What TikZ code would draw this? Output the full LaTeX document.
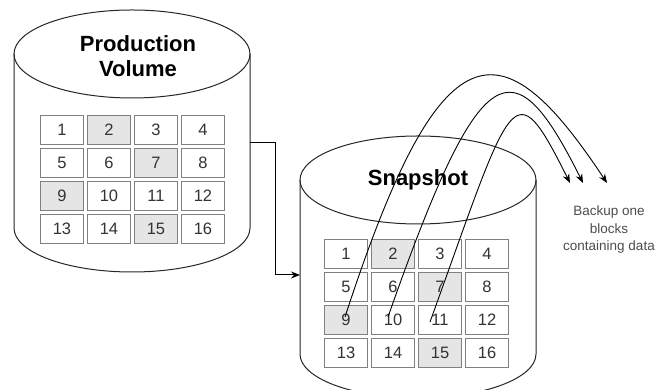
\documentclass[tikz,border=0pt]{standalone}
\usepackage{fontspec}
\setmainfont{Liberation Sans}
\usetikzlibrary{arrows.meta}

\begin{document}
\begin{tikzpicture}[x=1pt, y=1pt,
    vol/.style={line width=1pt, draw=black!85},
    title/.style={align=center, font=\bfseries\fontsize{22}{25}\selectfont},
    cell/.style={draw=black!50, line width=1.3pt, fill=white, minimum width=43pt, minimum height=29pt, inner sep=0pt, font=\fontsize{16.5}{19}\selectfont, text=black!80},
    used/.style={cell, fill=black!10},
    note/.style={align=center, font=\fontsize{13.5}{17.5}\selectfont, text=black!70},
    flow/.style={line width=0.9pt, -{Stealth[length=9pt, width=7pt]}}]
    \useasboundingbox (0,0) rectangle (656,390);
    % production volume
    \draw[vol] (14,336) -- (14,162) arc[start angle=180, end angle=360, x radius=118, y radius=44] -- (250,336);
    \draw[vol] (132,336) ellipse[x radius=118, y radius=44];
    \node[title] (prodtitle) at (138,334) {Production\\Volume};
    % snapshot
    \draw[vol] (300,210) -- (300,36) arc[start angle=180, end angle=360, x radius=118, y radius=44] -- (536,210);
    \draw[vol] (418,210) ellipse[x radius=118, y radius=44];
    \node[title] (snaptitle) at (418,210) {Snapshot};
    % blocks, same layout in both volumes
    \foreach \n/\s in {1/cell,2/used,3/cell,4/cell,5/cell,6/cell,7/used,8/cell,
                       9/used,10/cell,11/cell,12/cell,13/cell,14/cell,15/used,16/cell} {
        \pgfmathtruncatemacro\col{mod(\n-1,4)}
        \pgfmathtruncatemacro\row{div(\n-1,4)}
        \node[\s] (p\n) at ({62+47*\col},{260-33*\row}) {\n};
        \node[\s] (s\n) at ({346+47*\col},{136-33*\row}) {\n};
    }
    % volume -> snapshot
    \coordinate (prodout) at (250,247);
    \coordinate (snapin) at (300,115);
    \draw[line width=1pt, -{Stealth[length=9pt, width=7pt]}] (prodout) -- ++(25,0) |- (snapin);
    % backup arcs
    \coordinate (tip9) at (607,207);
    \coordinate (tip10) at (583,207);
    \coordinate (tip11) at (570,207);
    \draw[flow] ([shift={(-1,3)}]s9.center) .. controls +(96,295) and +(-106,160) .. (tip9);
    \draw[flow] ([shift={(-5,3)}]s10.center) .. controls +(93,265) and +(-70,140) .. (tip10);
    \draw[flow] ([shift={(-10,-2)}]s11.center) .. controls +(83,230) and +(-57.5,115) .. (tip11);
    \node[note] (backup) at (609,160) {Backup one\\blocks\\containing data};
\end{tikzpicture}
\end{document}
